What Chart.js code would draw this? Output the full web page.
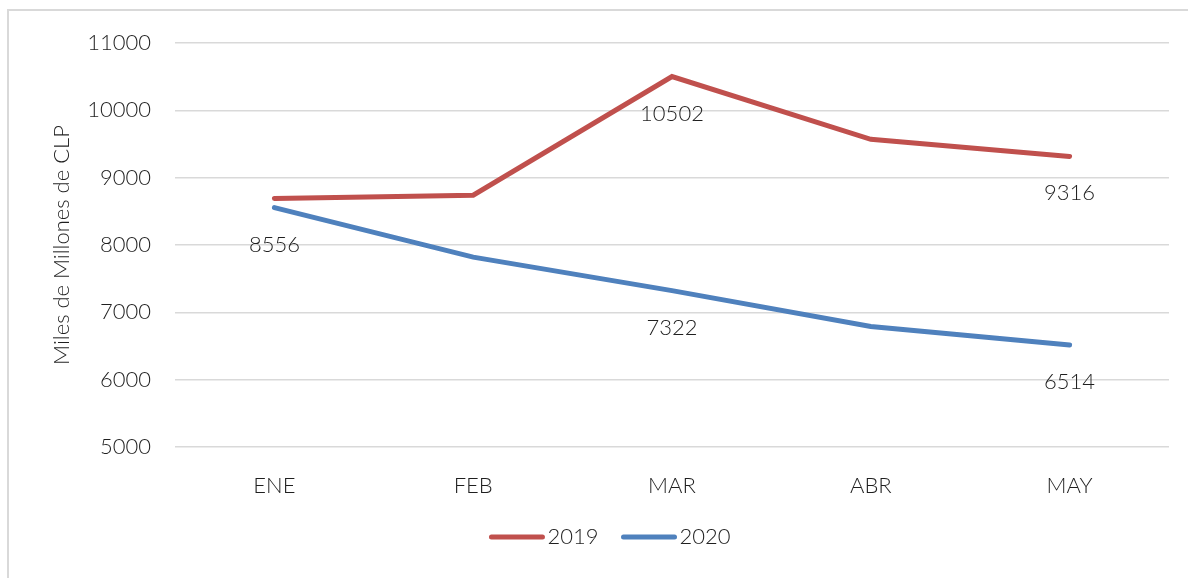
<!DOCTYPE html>
<html>
<head>
<meta charset="utf-8">
<script src="https://cdn.jsdelivr.net/npm/chart.js@4"></script>
<style>
  html, body { margin: 0; padding: 0; background: #fff; }
  #frame { position: absolute; left: 7px; top: 9px; width: 1300px; height: 700px;
           border-left: 2px solid #d9d9d9; border-top: 2px solid #d9d9d9; }
  #wrap { position: absolute; left: 0; top: 0; width: 1188px; height: 578px; }
</style>
</head>
<body>
<div id="frame"></div>
<div id="wrap"><canvas id="myChart" width="1188" height="578"></canvas></div>
<script>
// data
const months = ['ENE', 'FEB', 'MAR', 'ABR', 'MAY'];
const ventas2019 = [8690, 8740, 10502, 9570, 9316];
const ventas2020 = [8556, 7820, 7322, 6790, 6514];
// which points carry a value label
const labels2019 = [2, 4];
const labels2020 = [0, 2, 4];

const FONT = 'Lato, "Open Sans", sans-serif';
const TXT = '#1f1f1f';

// simple data labels under the points
const valueLabels = {
  id: 'valueLabels',
  afterDatasetsDraw(chart) {
    const ctx = chart.ctx;
    ctx.save();
    ctx.font = '300 22px ' + FONT;
    ctx.fillStyle = TXT;
    ctx.textAlign = 'center';
    ctx.textBaseline = 'middle';
    chart.data.datasets.forEach((ds, di) => {
      const meta = chart.getDatasetMeta(di);
      ds.showLabels.forEach(i => {
        const pt = meta.data[i];
        ctx.fillText(String(ds.data[i]), pt.x, pt.y + 37);
      });
    });
    ctx.restore();
  }
};

// legend drawn by hand: line sample + text, centred under the plot
const lineLegend = {
  id: 'lineLegend',
  afterDraw(chart) {
    const ctx = chart.ctx;
    const y = 537;
    const lineLen = 55, gap = 3, itemGap = 23;
    ctx.save();
    ctx.font = '300 22px ' + FONT;
    ctx.textBaseline = 'middle';
    ctx.textAlign = 'left';
    const items = chart.data.datasets.map(ds => ({ ds, w: ctx.measureText(ds.label).width }));
    let total = items.reduce((s, it) => s + lineLen + gap + it.w, 0) + itemGap * (items.length - 1);
    let x = 610 - total / 2;
    items.forEach(it => {
      ctx.strokeStyle = it.ds.borderColor;
      ctx.lineWidth = 5;
      ctx.lineCap = 'round';
      ctx.beginPath();
      ctx.moveTo(x + 2, y);
      ctx.lineTo(x + lineLen - 2, y);
      ctx.stroke();
      ctx.fillStyle = TXT;
      ctx.fillText(it.ds.label, x + lineLen + gap, y);
      x += lineLen + gap + it.w + itemGap;
    });
    ctx.restore();
  }
};

var ctx = document.getElementById('myChart').getContext('2d');

var chart = new Chart(ctx, {
  type: 'line',
  data: {
    labels: months,
    datasets: [{
      label: '2019',
      data: ventas2019,
      showLabels: labels2019,
      borderColor: '#C0504D',
      backgroundColor: '#C0504D',
      borderWidth: 5,
      borderCapStyle: 'round',
      pointRadius: 0,
      tension: 0
    }, {
      label: '2020',
      data: ventas2020,
      showLabels: labels2020,
      borderColor: '#4F81BD',
      backgroundColor: '#4F81BD',
      borderWidth: 5,
      borderCapStyle: 'round',
      pointRadius: 0,
      tension: 0
    }]
  },
  options: {
    responsive: false,
    animation: false,
    layout: { padding: { top: 43, right: 19, bottom: 62, left: 0 } },
    plugins: {
      tooltip: { enabled: false },
      legend: { display: false }
    },
    scales: {
      x: {
        offset: true,
        grid: { display: false },
        border: { display: false },
        ticks: { color: TXT, padding: 18, font: { family: FONT, size: 22, weight: '300' } },
        afterFit(scale) { scale.height = 69; }
      },
      y: {
        min: 5000,
        max: 11000,
        grid: { color: '#d9d9d9', lineWidth: 1.5, drawTicks: false },
        border: { display: false },
        ticks: {
          stepSize: 1000,
          color: TXT,
          padding: 24,
          font: { family: FONT, size: 22, weight: '300' },
          callback: v => String(v)
        },
        title: {
          display: true,
          text: 'Miles de Millones de CLP',
          color: TXT,
          padding: { top: 49, bottom: 0 },
          font: { family: FONT, size: 22, weight: '300' }
        },
        afterFit(scale) { scale.width = 175; }
      }
    }
  },
  plugins: [valueLabels, lineLegend]
});
</script>
</body>
</html>
